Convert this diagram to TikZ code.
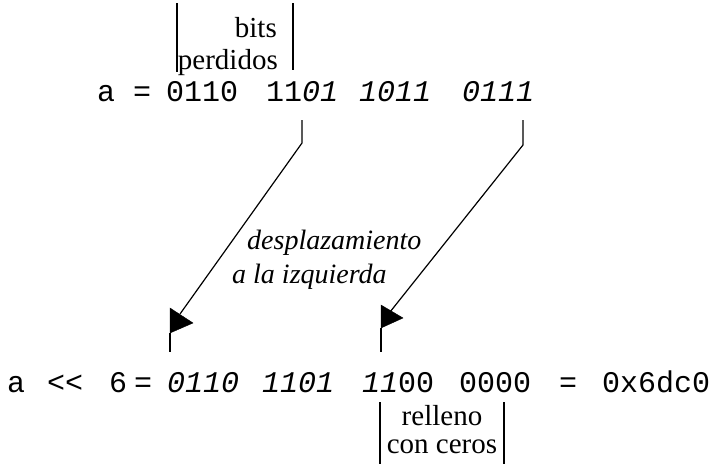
\documentclass[tikz,border=0pt]{standalone}
\usepackage{fontspec}
\setmainfont{Liberation Serif}
\setmonofont{Liberation Mono}
\begin{document}
\begin{tikzpicture}[x=1pt,y=-1pt,
  mono/.style={inner sep=0pt, anchor=base west, font=\fontsize{30}{36}\selectfont\ttfamily},
  monoit/.style={inner sep=0pt, anchor=base west, font=\fontsize{30}{36}\selectfont\ttfamily\itshape},
  lbl/.style={inner sep=0pt, font=\fontsize{29}{34}\selectfont},
  itlbl/.style={inner sep=0pt, anchor=base west, font=\fontsize{28}{33}\selectfont\itshape},
  bar/.style={line width=1.5pt},
  conn/.style={line width=1.2pt},
  head/.style={fill=black, draw=black, line width=0.4pt}
]
\useasboundingbox[fill=white] (0,0) rectangle (713,464);

% top line: a = 0110 1101 1011 0111
\node[mono]   (ta)  at (97,101)  {a};
\node[mono]   (teq) at (133,101) {=};
\node[mono]   (t1)  at (166,101) {0110};
\node[mono]   (t2a) at (266,101) {11};
\node[monoit] (t2b) at (302,101) {01};
\node[monoit] (t3)  at (359,101) {1011};
\node[monoit] (t4)  at (462,101) {0111};

% bits perdidos
\node[lbl, anchor=base east] (bits) at (277,37) {bits};
\node[lbl, anchor=base east] (perd) at (278,69) {perdidos};
\draw[bar] (177,3) -- (177,72);
\draw[bar] (293,3) -- (293,70);

% bottom line: a << 6 = 0110 1101 1100 0000 = 0x6dc0
\node[mono]   (ba)   at (7,392)   {a};
\node[mono]   (bsh)  at (47,392)  {<<};
\node[mono]   (bsix) at (109,392) {6};
\node[mono]   (beq)  at (134,392) {=};
\node[monoit] (b1)   at (167,392) {0110};
\node[monoit] (b2)   at (262,392) {1101};
\node[monoit] (b3a)  at (362,392) {11};
\node[mono]   (b3b)  at (398,392) {00};
\node[mono]   (b4)   at (459,392) {0000};
\node[mono]   (beq2) at (559,392) {=};
\node[mono]   (bhex) at (602,392) {0x6dc0};

% relleno con ceros
\node[lbl, anchor=base] (rel) at (442,425) {relleno};
\node[lbl, anchor=base] (con) at (442,453) {con ceros};
\draw[bar] (380,402) -- (380,464);
\draw[bar] (504,402) -- (504,464);

% shift label
\node[itlbl] (desp) at (247,249) {desplazamiento};
\node[itlbl] (izq)  at (232,283) {a la izquierda};

% left arrow
\coordinate (la0) at (302,120);
\coordinate (la1) at (302,143);
\coordinate (la2) at (180,314);
\coordinate (la3) at (170,333);
\coordinate (la4) at (170,352);
\draw[conn] (la0) -- (la1) -- (la2);
\fill[head] (170,308) -- (193,323) -- (la3) -- cycle;
\draw[conn] (la3) -- (la4);

% right arrow
\coordinate (ra0) at (523,120);
\coordinate (ra1) at (523,145);
\coordinate (ra2) at (390,312);
\coordinate (ra3) at (381,328);
\coordinate (ra4) at (381,352);
\draw[conn] (ra0) -- (ra1) -- (ra2);
\fill[head] (381,305) -- (403,318) -- (ra3) -- cycle;
\draw[conn] (ra3) -- (ra4);
\end{tikzpicture}
\end{document}
